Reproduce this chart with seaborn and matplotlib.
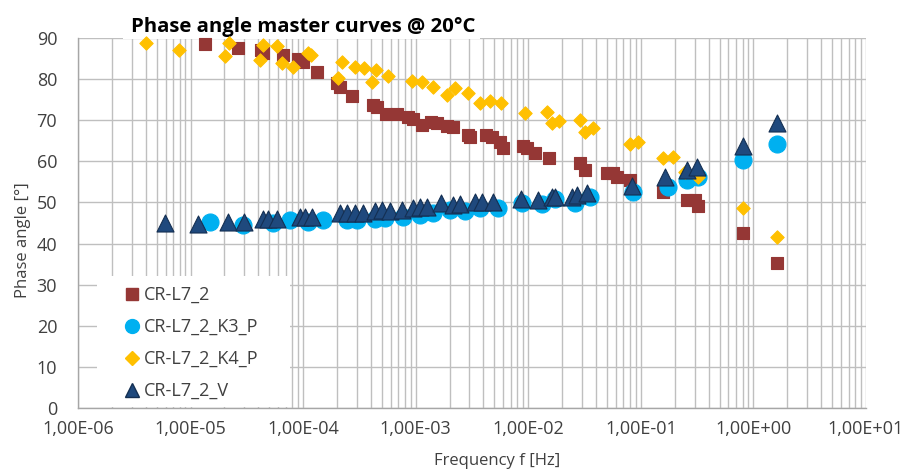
import numpy as np
import pandas as pd
import matplotlib
matplotlib.use("Agg")
import matplotlib.pyplot as plt
import matplotlib.ticker as mticker
from matplotlib.lines import Line2D
from matplotlib.patches import Rectangle
import seaborn as sns

# ---------------- data ----------------
title = "Phase angle master curves @ 20°C"
x_label = "Frequency f [Hz]"
y_label = "Phase angle [°]"
series_names = ["CR-L7_2", "CR-L7_2_K3_P", "CR-L7_2_K4_P", "CR-L7_2_V"]

f_ref = [1.34e-5, 2.64e-5, 4.22e-5, 4.4e-5, 6.6e-5, 9.0e-5, 9.95e-5, 1.32e-4, 2.0e-4, 2.13e-4,
         2.7e-4, 4.17e-4, 4.5e-4, 5.5e-4, 6.8e-4, 8.5e-4, 9.5e-4, 1.13e-3, 1.36e-3, 1.54e-3,
         1.89e-3, 2.14e-3, 2.91e-3, 3.02e-3, 4.2e-3, 4.75e-3, 5.6e-3, 5.95e-3, 8.96e-3, 9.75e-3,
         1.15e-2, 1.52e-2, 2.88e-2, 3.18e-2, 4.98e-2, 5.65e-2, 6.1e-2, 7.95e-2, 0.157, 0.255,
         0.30, 0.32, 0.805, 1.61]
a_ref = [88.6, 87.5, 87.2, 86.4, 85.9, 84.9, 84.1, 81.8, 79.0, 78.1,
         75.9, 73.7, 73.3, 71.5, 71.5, 70.8, 70.4, 68.9, 69.6, 69.3,
         68.6, 68.4, 66.4, 65.8, 66.4, 65.9, 64.8, 63.2, 63.7, 63.2,
         62.1, 60.7, 59.7, 58.0, 57.2, 57.1, 56.3, 55.5, 52.6, 50.6,
         50.6, 49.1, 42.5, 35.3]

f_k3 = [1.49e-5, 2.92e-5, 5.4e-5, 7.6e-5, 1.1e-4, 1.5e-4, 2.45e-4, 3.0e-4, 4.35e-4, 5.3e-4,
        7.7e-4, 1.09e-3, 1.42e-3, 2.0e-3, 2.74e-3, 3.72e-3, 5.37e-3, 8.8e-3, 1.32e-2, 1.72e-2,
        2.59e-2, 3.52e-2, 8.5e-2, 0.174, 0.255, 0.32, 0.805, 1.61]
a_k3 = [45.2, 44.5, 44.9, 45.7, 45.3, 45.7, 45.7, 45.7, 46.0, 46.1,
        46.5, 47.0, 47.4, 48.2, 47.8, 48.6, 48.6, 49.8, 49.6, 50.8,
        49.9, 51.4, 52.6, 53.8, 55.5, 56.3, 60.3, 64.2]

f_k4 = [4.02e-6, 7.97e-6, 2.02e-5, 2.19e-5, 4.13e-5, 4.4e-5, 5.85e-5, 6.46e-5, 8.1e-5, 1.1e-4,
        1.17e-4, 2.04e-4, 2.2e-4, 2.88e-4, 3.5e-4, 4.1e-4, 4.4e-4, 5.66e-4, 9.25e-4, 1.13e-3,
        1.42e-3, 1.89e-3, 2.23e-3, 2.91e-3, 3.72e-3, 4.57e-3, 5.7e-3, 9.33e-3, 1.46e-2, 1.62e-2,
        1.87e-2, 2.88e-2, 3.18e-2, 3.75e-2, 7.95e-2, 9.4e-2, 0.157, 0.192, 0.245, 0.32,
        0.805, 1.61]
a_k4 = [88.8, 87.2, 85.5, 88.8, 84.7, 88.4, 88.1, 83.8, 82.9, 86.4,
        85.9, 80.2, 84.2, 83.0, 82.6, 79.4, 82.1, 80.8, 79.6, 79.4,
        78.0, 76.1, 77.8, 76.7, 74.1, 74.6, 74.3, 71.7, 72.1, 69.3,
        69.9, 70.1, 67.2, 68.0, 64.2, 64.8, 60.7, 61.0, 57.5, 56.1,
        48.6, 41.7]

f_v = [5.93e-6, 1.16e-5, 2.15e-5, 2.98e-5, 4.4e-5, 4.87e-5, 5.85e-5, 9.35e-5, 1.04e-4, 1.2e-4,
       2.12e-4, 2.45e-4, 2.88e-4, 3.39e-4, 4.34e-4, 5.0e-4, 5.9e-4, 7.5e-4, 9.45e-4, 1.09e-3,
       1.26e-3, 1.67e-3, 2.14e-3, 2.47e-3, 3.36e-3, 3.87e-3, 4.85e-3, 8.6e-3, 1.22e-2, 1.62e-2,
       1.72e-2, 2.44e-2, 2.7e-2, 3.31e-2, 8.3e-2, 0.163, 0.255, 0.314, 0.805, 1.61]
a_v = [44.9, 44.8, 45.3, 45.3, 45.9, 45.9, 45.9, 46.5, 46.5, 46.5,
       47.4, 47.4, 47.4, 47.5, 48.0, 48.2, 48.0, 48.2, 48.6, 48.8,
       48.8, 49.8, 49.4, 49.6, 50.2, 50.0, 50.0, 50.8, 50.6, 51.4,
       51.4, 51.4, 51.8, 52.2, 54.0, 56.1, 57.9, 58.7, 63.7, 69.3]

x_ticks = [1e-6, 1e-5, 1e-4, 1e-3, 1e-2, 1e-1, 1e0, 1e1]
x_tick_labels = ["1,00E-06", "1,00E-05", "1,00E-04", "1,00E-03",
                 "1,00E-02", "1,00E-01", "1,00E+00", "1,00E+01"]
y_ticks = [0, 10, 20, 30, 40, 50, 60, 70, 80, 90]

# ---------------- style ----------------
sns.set_theme(style="white")
plt.rcParams["font.family"] = ["Open Sans", "DejaVu Sans"]

colors = ["#953735", "#00B0F0", "#FFC000", "#1F497D"]
markers = ["s", "o", "D", "^"]
sizes = [72, 150, 46, 150]
edges = ["#953735", "#00B0F0", "#FFC000", "#142F52"]
txt_col = "#404040"

W, H = 904, 471
L, R, T, B = 78, 866, 38, 408
fig = plt.figure(figsize=(W / 100, H / 100), dpi=100)
ax = fig.add_axes([L / W, 1 - B / H, (R - L) / W, (B - T) / H])


def ax_x(px):
    return (px - L) / (R - L)


def ax_y(py):
    return (B - py) / (B - T)


data = [(f_ref, a_ref), (f_k3, a_k3), (f_k4, a_k4), (f_v, a_v)]
for i, (fx, ay) in enumerate(data):
    df = pd.DataFrame({"f": fx, "a": ay})
    sns.scatterplot(data=df, x="f", y="a", ax=ax, marker=markers[i], color=colors[i],
                    s=sizes[i], edgecolor=edges[i], linewidth=0.8, zorder=3 + i,
                    legend=False, clip_on=False)

ax.set_xscale("log")
ax.set_xlim(1e-6, 1e1)
ax.set_ylim(0, 90)
ax.xaxis.set_major_locator(mticker.FixedLocator(x_ticks))
ax.xaxis.set_major_formatter(mticker.FixedFormatter(x_tick_labels))
ax.xaxis.set_minor_locator(mticker.LogLocator(base=10, subs=np.arange(2, 10), numticks=100))
ax.xaxis.set_minor_formatter(mticker.NullFormatter())
ax.set_yticks(y_ticks)

gc = "#BFBFBF"
ax.grid(True, which="major", axis="both", color=gc, linewidth=1.0, zorder=0)
ax.grid(True, which="minor", axis="x", color=gc, linewidth=1.0, zorder=0)
ax.set_axisbelow(True)
for s in ["top", "right"]:
    ax.spines[s].set_visible(False)
for s in ["left", "bottom"]:
    ax.spines[s].set_color("#A6A6A6")
    ax.spines[s].set_linewidth(1.0)
ax.tick_params(axis="both", which="both", length=0, labelsize=13, colors=txt_col)
ax.tick_params(axis="x", pad=9)
ax.tick_params(axis="y", pad=15)

ax.set_xlabel(x_label, fontsize=12, color=txt_col)
ax.set_ylabel(y_label, fontsize=12, color=txt_col)
ax.xaxis.set_label_coords(ax_x(497), ax_y(453))
ax.yaxis.set_label_coords(ax_x(31), ax_y(240))

# legend block (white box at lower left)
ax.add_patch(Rectangle((ax_x(97), 0.002), ax_x(290) - ax_x(97), ax_y(277),
                       transform=ax.transAxes, facecolor="white", edgecolor="none",
                       zorder=10))
handles = [Line2D([], [], linestyle="none", marker=markers[i], color=colors[i],
                  markeredgecolor=edges[i], markersize=[8, 10, 7, 10][i])
           for i in range(4)]
leg = ax.legend(handles, series_names, loc="upper left",
                bbox_to_anchor=(ax_x(126), ax_y(286)),
                frameon=False, fontsize=13, handlelength=0.7, handletextpad=0.3,
                labelspacing=0.78, borderaxespad=0, borderpad=0)
leg.set_zorder(11)
for t in leg.get_texts():
    t.set_color(txt_col)

# title with white box over the top of the plot area
ax.add_patch(Rectangle((ax_x(123), ax_y(39)), ax_x(480) - ax_x(123), ax_y(4) - ax_y(39),
                       transform=ax.transAxes, facecolor="white", edgecolor="none",
                       zorder=2.5, clip_on=False))
ax.text(ax_x(303.5), ax_y(32), title, ha="center", va="baseline", fontsize=14.7,
        fontweight="bold", color="black", transform=ax.transAxes, zorder=2.6,
        clip_on=False)

fig.savefig("out.png", dpi=100, facecolor="white")
